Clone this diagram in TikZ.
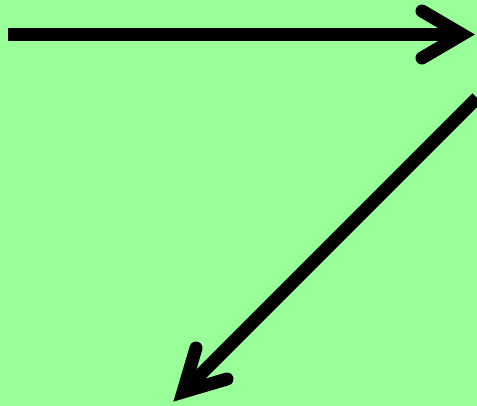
\documentclass[tikz,border=0pt]{standalone}
\definecolor{bggreen}{HTML}{99FF99}
\tikzset{
  shaft/.style={line width=13pt, line cap=butt},
  barb/.style={line width=13pt, line cap=round, line join=miter, miter limit=10}
}
\begin{document}
\begin{tikzpicture}[x=1pt,y=-1pt]
\fill[bggreen] (0,0) rectangle (477,406);
\useasboundingbox (0,0) rectangle (477,406);
% arrow 1
\coordinate (a1s) at (8,34.5);
\coordinate (a1t) at (462,34.5);
\coordinate (a1u) at (422,11);
\coordinate (a1d) at (422,58);
\draw[shaft] (a1s) -- (a1t);
\draw[barb] (a1u) -- (a1t) -- (a1d);
% arrow 2
\coordinate (a2s) at (477,98);
\coordinate (a2t) at (183,392);
\coordinate (a2u) at (196,348);
\coordinate (a2d) at (227,379);
\draw[shaft] (a2s) -- (a2t);
\draw[barb] (a2u) -- (a2t) -- (a2d);
\end{tikzpicture}
\end{document}
